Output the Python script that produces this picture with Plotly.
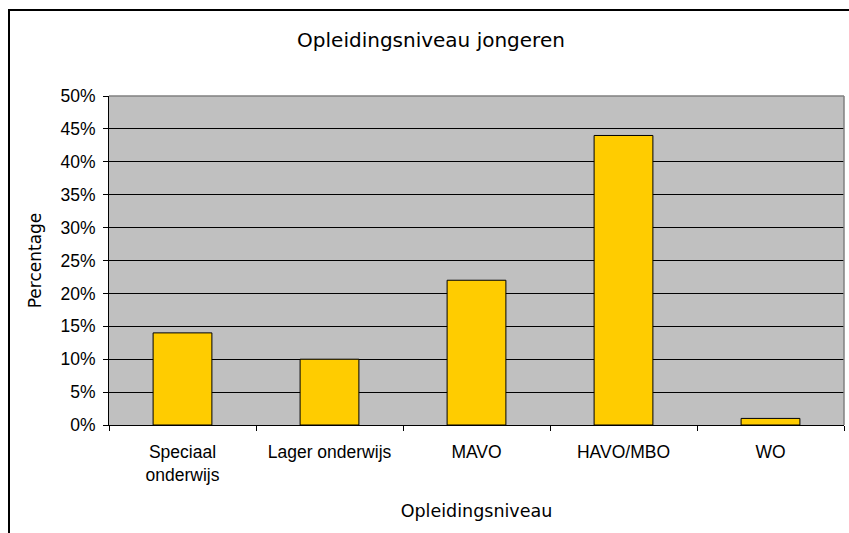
import plotly.graph_objects as go

categories = ["Speciaal<br>onderwijs", "Lager onderwijs", "MAVO", "HAVO/MBO", "WO"]
values = [0.14, 0.10, 0.22, 0.44, 0.01]
y_ticks = [0, 0.05, 0.10, 0.15, 0.20, 0.25, 0.30, 0.35, 0.40, 0.45, 0.50]
y_tick_labels = ["0%", "5%", "10%", "15%", "20%", "25%", "30%", "35%", "40%", "45%", "50%"]

W, H = 849, 533
L, R, T, B = 109, 5, 96, 108
pw, ph = W - L - R, H - T - B

def px_x(x):
    return (x - L) / pw

def px_y(y):
    return (H - B - y) / ph

fig = go.Figure(go.Bar(
    x=categories, y=values,
    marker=dict(color="#FFCC00", line=dict(color="black", width=1)),
))

fig.update_layout(
    width=W, height=H,
    margin=dict(l=L, r=R, t=T, b=B),
    paper_bgcolor="white", plot_bgcolor="#C0C0C0",
    bargap=0.6,
    showlegend=False,
    title=dict(text="Opleidingsniveau jongeren", x=431 / W, xanchor="center",
               y=1 - 40 / H, yanchor="middle",
               font=dict(family="DejaVu Sans", size=20, color="black")),
    font=dict(family="Liberation Sans, Arial", size=17.5, color="black"),
    shapes=[
        dict(type="line", xref="paper", yref="paper", x0=0, x1=1, y0=1, y1=1,
             line=dict(color="#808080", width=1.5)),
        dict(type="line", xref="paper", yref="paper", x0=1, x1=1, y0=0, y1=1,
             line=dict(color="#808080", width=1.5)),
        dict(type="rect", xref="paper", yref="paper",
             x0=px_x(9), x1=px_x(870), y0=px_y(570), y1=px_y(10),
             line=dict(color="black", width=2), fillcolor="rgba(0,0,0,0)", layer="below"),
    ],
)

fig.update_xaxes(
    showline=True, linecolor="black", linewidth=1,
    ticks="outside", tickson="boundaries", ticklen=5, tickcolor="black",
    showgrid=False, ticklabelstandoff=11,
    tickfont=dict(family="Liberation Sans, Arial", size=17.5),
    title=dict(text="Opleidingsniveau", font=dict(family="DejaVu Sans", size=17.5), standoff=20),
)
fig.update_yaxes(
    range=[0, 0.5],
    tickvals=y_ticks, ticktext=y_tick_labels,
    showline=True, linecolor="black", linewidth=1,
    ticks="outside", ticklen=5, tickcolor="black", ticklabelstandoff=4,
    showgrid=True, gridcolor="black", gridwidth=1, zeroline=False,
    tickfont=dict(family="Liberation Sans, Arial", size=17.5),
    title=dict(text="Percentage", font=dict(family="DejaVu Sans", size=17), standoff=14),
)

fig.write_html(
    "out.html",
    config={"displayModeBar": False},
    post_script="document.body.style.margin='0';document.body.style.overflow='hidden';",
)
